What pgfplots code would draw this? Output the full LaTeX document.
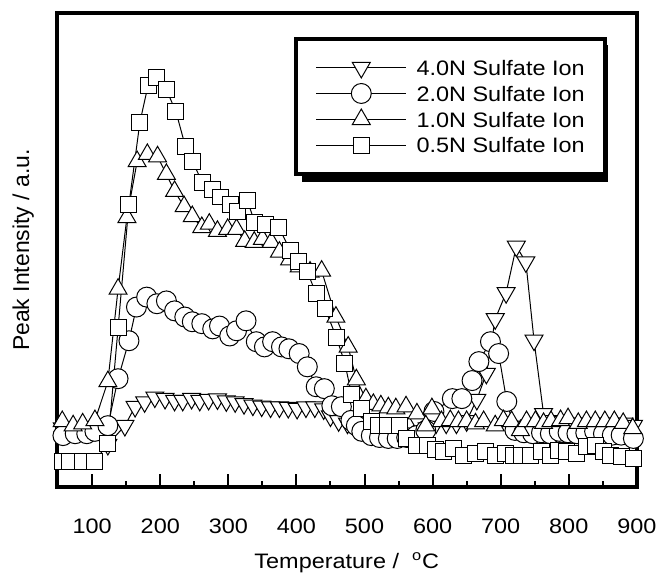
\documentclass[border=0pt]{standalone}
\usepackage{fontspec}
\setmainfont{Liberation Sans}[FakeStretch=1.12]
\newfontfamily\ylfont{Liberation Sans}
\usepackage{pgfplots}
\pgfplotsset{compat=1.18}

\newcommand{\lblfont}{\fontsize{10.5}{12}\selectfont}

\begin{document}
\begin{tikzpicture}
\begin{axis}[name=ax,
  scale only axis, width=291pt, height=238pt,
  xmin=48, xmax=900, ymin=0, ymax=100,
  axis line style={line width=2pt},
  xtick={100,200,...,900}, minor xtick={150,250,...,850},
  ytick=\empty, xtick pos=bottom, tick align=inside,
  major tick length=6.5pt, minor tick length=3pt,
  tick style={line width=1pt, black},
  /pgf/number format/assume math mode=true,
  tick label style={font=\lblfont},
  xticklabel style={anchor=center, yshift=-19.5pt},
  xlabel={Temperature /~~\textsuperscript{o}C},
  xlabel style={at={(axis description cs:0.5,0)}, anchor=center, yshift=-38pt, font=\lblfont},
  ylabel={Peak Intensity / a.u.},
  ylabel style={at={(axis description cs:-0.058,0.5)}, anchor=center, font=\ylfont\fontsize{11.5}{13}\selectfont},
  legend cell align=left,
  legend image code/.code={\draw[mark repeat=2,mark phase=2,#1] plot coordinates {(0pt,0pt) (22.5pt,0pt) (45pt,0pt)};},
  legend style={at={(axis description cs:0.409,0.950)}, anchor=north west,
    draw=black, line width=2pt, fill=white,
    inner xsep=10pt, inner ysep=8pt, column sep=5pt, row sep=0pt, font=\lblfont,
    nodes={inner xsep=0pt, inner ysep=2.65pt, text height=7.7pt, text depth=0pt}},
]
% 4.0N
\addplot[black, line width=0.5pt, mark=triangle*, mark size=5.2pt,
  mark options={solid, fill=white, line width=0.5pt, rotate=180}] coordinates {
  (56,12.5) (72,12) (86,12) (104,12.5) (123,9) (148,13) (163,17) (177,18)
  (192,19) (207,18.7) (221,18.3) (233,18.3) (246,18.7) (258,18.3) (271,18.5)
  (284,18.6) (297,18.2) (310,18) (323,17.6) (336,17.3) (349,17.1) (362,16.9)
  (375,16.9) (388,16.8) (401,16.6) (414,16.9) (427,16.9) (440,16.5) (450,15)
  (462,14) (475,13.5) (490,13.5) (505,13.5) (520,13.5) (535,13.5) (550,13.5)
  (565,13.5) (580,13.5) (592,12.5) (605,13.5) (620,13.5) (635,13.5) (650,14)
  (665,18.5) (679,24) (692,35.5) (708,41) (723,50.8) (737,47.5) (749,31)
  (763,15.5) (777,14) (790,13.8) (803,13.5) (816,13.5) (829,13.5) (842,13.5)
  (855,13.5) (868,13.5) (881,13.5) (895,13)};
\addlegendentry{4.0N Sulfate Ion}
% 2.0N
\addplot[black, line width=0.5pt, mark=*, mark size=5pt,
  mark options={solid, fill=white, line width=0.5pt}] coordinates {
  (57,10.9) (75,11.3) (92,11.3) (104,11.8) (123,13) (138,22.9) (154,30.9)
  (165,38) (180,40.1) (195,38.7) (209,39.3) (221,37.2) (236,35.9) (247,34.9)
  (261,34.5) (277,33.4) (287,34) (302,31.9) (312,33) (326,35.1) (341,30.7)
  (353,29.6) (365,30.7) (378,29.6) (389,29.2) (404,28.2) (416,25.4) (429,21.2)
  (441,20.8) (452,17.2) (466,17) (480,14.1) (488,13) (496,11.8) (510,10.9)
  (522,10.5) (535,10.3) (548,10.3) (562,10.5) (576,10.9) (590,12) (602,16)
  (629,18.7) (643,18.7) (658,22.5) (668,26.5) (685,30.7) (697,28.2) (709,18.1)
  (721,12) (734,11.5) (747,11.3) (760,11.5) (773,11.3) (786,11.8) (799,11.5)
  (812,11.3) (825,11.5) (838,11.8) (851,11.3) (864,11) (877,11) (895,10.3)};
\addlegendentry{2.0N Sulfate Ion}
% 1.0N
\addplot[black, line width=0.5pt, mark=triangle*, mark size=5.2pt,
  mark options={solid, fill=white, line width=0.5pt}] coordinates {
  (56,13.9) (72,13) (86,13.4) (104,14.1) (123,22.3) (138,41.8) (151,56.9)
  (166,68.7) (181,70.2) (196,69.7) (209,66) (221,62.4) (235,59.2) (247,57.1)
  (261,54.8) (272,55.5) (284,54) (299,54.4) (312,54.4) (324,51.9) (338,51.7)
  (350,52.3) (363,51.7) (375,49.6) (390,48) (404,46.5) (420,45.4) (437,45.6)
  (458,35.9) (476,29.6) (488,22.7) (502,18.7) (513,17.5) (524,17.2) (535,16.8)
  (546,16.6) (561,17) (577,15.5) (590,13) (599,16.6) (613,13.9) (626,14.1)
  (638,13.9) (650,13.9) (663,13.4) (675,13.9) (692,13) (704,14.1) (716,13.9)
  (729,12) (738,13.9) (751,13.9) (763,13.5) (774,13.9) (788,14.1) (799,14.5)
  (814,13.5) (826,13.9) (839,13.9) (853,13.9) (867,13.9) (880,13.5) (894,12.4)};
\addlegendentry{1.0N Sulfate Ion}
% 0.5N
\addplot[black, line width=0.5pt, mark=square*, mark size=4pt,
  mark options={solid, fill=white, line width=0.5pt}] coordinates {
  (56,5.5) (67,5.5) (86,5.5) (104,5.5) (123,9.2) (138,33.6) (154,59.7)
  (170,76.9) (182,84.7) (195,86.3) (209,83.8) (223,79.2) (237,71.8) (247,68.7)
  (262,64.3) (277,62.7) (289,61.2) (303,59.6) (313,58.1) (328,60.4) (339,55.8)
  (354,55.4) (374,54.8) (391,50) (403,47.7) (416,45.4) (429,40.8) (442,37.7)
  (459,31.5) (471,26.2) (481,19.6) (496,16.6) (510,13.9) (521,13) (533,13)
  (551,13) (562,10.3) (577,8.8) (592,8.8) (604,8) (616,7.6) (631,8.2) (646,6.7)
  (663,7.1) (678,7.6) (693,6.7) (707,7.1) (719,6.7) (731,6.7) (744,6.7)
  (760,7.6) (773,6.7) (785,7.8) (797,7.6) (811,7.1) (826,8.6) (839,8.8)
  (851,7.6) (862,6.7) (877,6.5) (895,6.1)};
\addlegendentry{0.5N Sulfate Ion}
% legend shadow (drawn under the legend box)
\fill[black] (rel axis cs:0.4227,0.6429) rectangle (rel axis cs:0.9502,0.9328);
\end{axis}
\path (ax.south west) ++(-28.5pt,-44pt);
\path (ax.north east) ++(12pt,6.5pt);
\end{tikzpicture}
\end{document}
